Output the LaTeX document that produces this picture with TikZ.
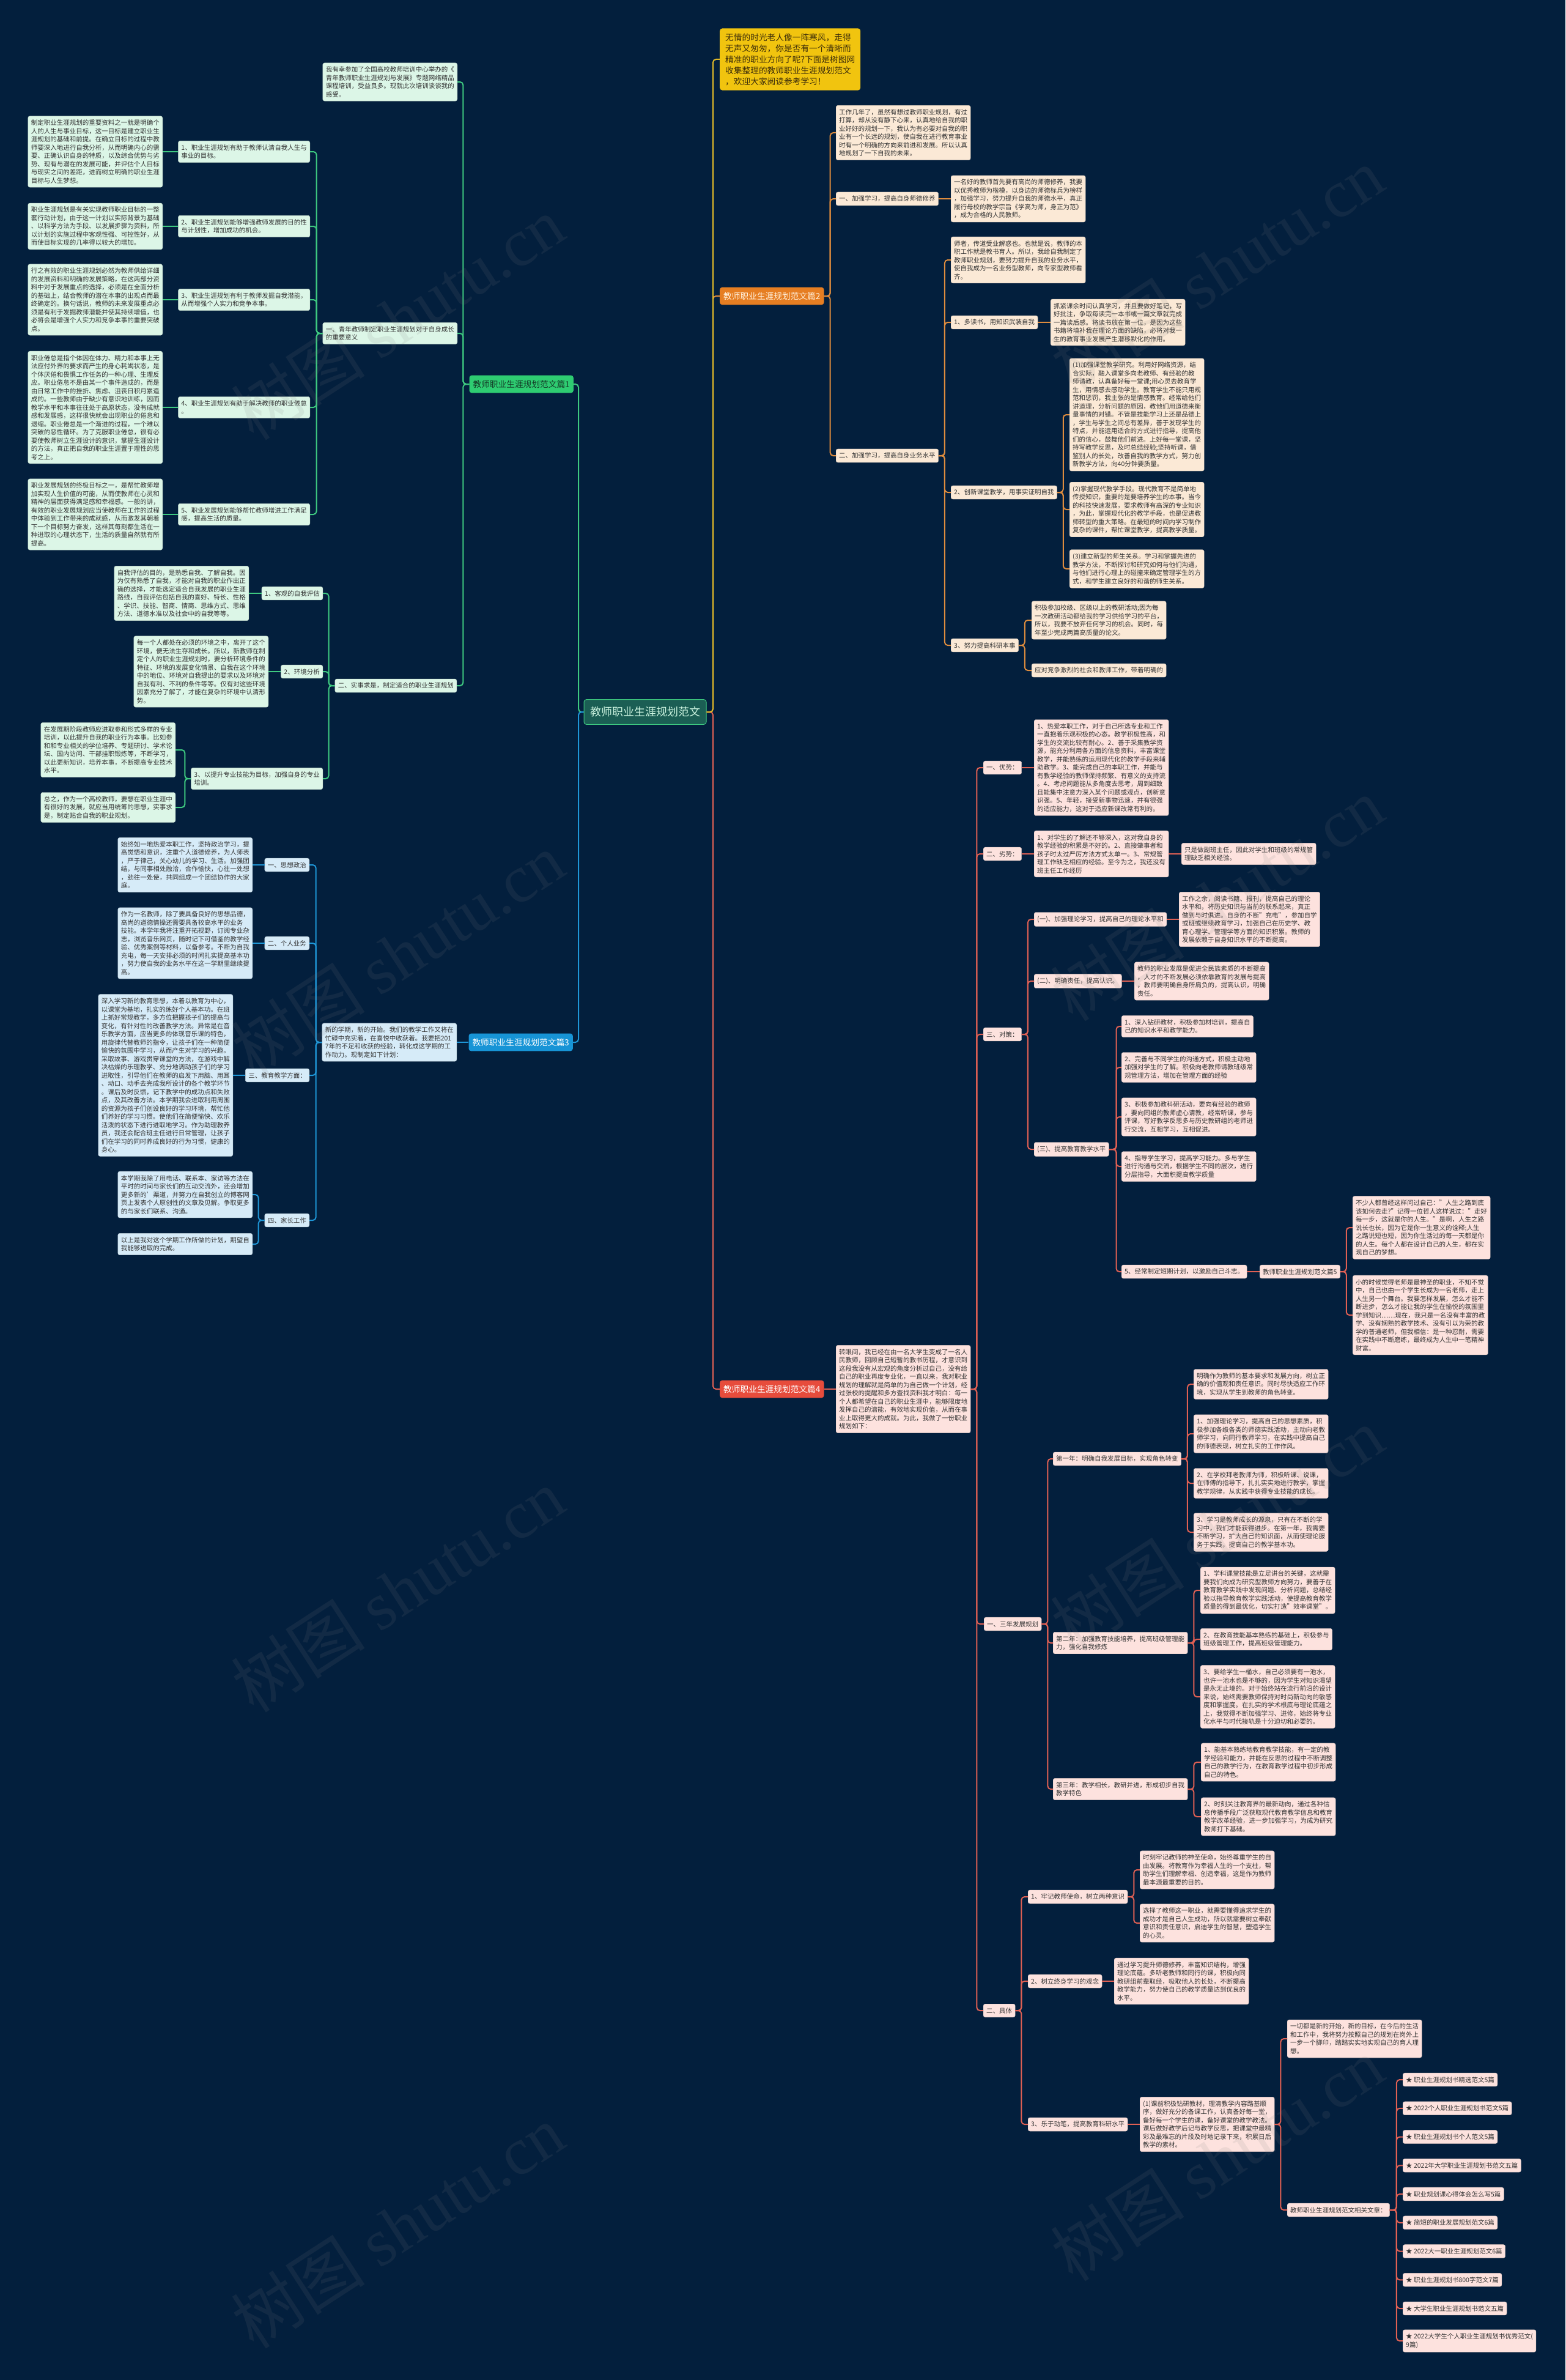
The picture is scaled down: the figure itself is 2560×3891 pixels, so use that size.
\documentclass[tikz,border=0pt]{standalone}
\usepackage{fontspec}
\setmainfont{Noto Sans CJK SC}
\newfontfamily\wmserif{Liberation Serif}

% farben
\definecolor{bgnavy}{RGB}{3,31,61}
\definecolor{inkDark}{RGB}{51,51,51}
\definecolor{gLine}{RGB}{62,201,128}
\definecolor{gBox}{RGB}{220,246,231}
\definecolor{gHead}{RGB}{46,204,113}
\definecolor{bLine}{RGB}{30,150,215}
\definecolor{bBox}{RGB}{214,235,248}
\definecolor{bHead}{RGB}{23,148,214}
\definecolor{oLine}{RGB}{222,140,62}
\definecolor{oBox}{RGB}{251,233,214}
\definecolor{oHead}{RGB}{230,126,34}
\definecolor{rLine}{RGB}{224,96,84}
\definecolor{rBox}{RGB}{253,226,222}
\definecolor{rHead}{RGB}{231,76,60}
\definecolor{yLine}{RGB}{226,186,40}
\definecolor{yHead}{RGB}{241,196,15}
\definecolor{ctrFill}{RGB}{27,94,84}

\begin{document}
\begin{tikzpicture}[x=1pt,y=-1pt,
    box/.style={rounded corners=3, align=left, inner xsep=5, inner ysep=6,
      font=\fontsize{10.5}{13.5}\selectfont, text=inkDark, line width=0.4},
    gbox/.style={box, fill=gBox, draw=gBox!85!black},
    bbox/.style={box, fill=bBox, draw=bBox!85!black},
    obox/.style={box, fill=oBox, draw=oBox!85!black},
    rbox/.style={box, fill=rBox, draw=rBox!85!black},
    head/.style={rounded corners=4, inner xsep=6, inner ysep=8,
      font=\fontsize{13.7}{16}\selectfont},
    ghead/.style={head, fill=gHead, text={rgb,255:red,20;green,60;blue,40}},
    bhead/.style={head, fill=bHead, text=white},
    ohead/.style={head, fill=oHead, text={rgb,255:red,255;green,240;blue,220}},
    rhead/.style={head, fill=rHead, text=white},
    lnk/.style={line width=2, rounded corners=5},
    gln/.style={lnk, draw=gLine},
    bln/.style={lnk, draw=bLine},
    oln/.style={lnk, draw=oLine},
    rln/.style={lnk, draw=rLine},
    yln/.style={lnk, draw=yLine},
    wm/.style={font=\fontsize{110}{110}\selectfont, text=gray, opacity=0.12}]
  \def\hg{10} % halber abstand eltern-kind

  % hintergrund
  \fill[bgnavy] (0,0) rectangle (2560,3891);
  \useasboundingbox (0,0) rectangle (2560,3891);

  % mitte
  \node[rounded corners=4, fill=ctrFill, draw=gLine, line width=1, inner xsep=10, inner ysep=12,
    font=\fontsize{18}{20}\selectfont, text={rgb,255:red,205;green,245;blue,225}] (ctr) at (1055,1164) {教师职业生涯规划范文};

  % ---------------- 篇1 (links, gruen)
  \node[ghead, anchor=east] (p1) at (938,628) {教师职业生涯规划范文篇1};
  \node[gbox, anchor=east] (c0) at (748,134) {我有幸参加了全国高校教师培训中心举办的《\\青年教师职业生涯规划与发展》专题网络精品\\课程培训，受益良多。现就此次培训谈谈我的\\感受。};
  \node[gbox, anchor=east] (c1) at (748,545) {一、青年教师制定职业生涯规划对于自身成长\\的重要意义};
  \node[gbox, anchor=east] (c2) at (747,1121) {二、实事求是，制定适合的职业生涯规划};
  \node[gbox, anchor=east] (b1) at (507,248) {1、职业生涯规划有助于教师认清自我人生与\\事业的目标。};
  \node[gbox, anchor=east] (b2) at (507,370) {2、职业生涯规划能够增强教师发展的目的性\\与计划性，增加成功的机会。};
  \node[gbox, anchor=east] (b3) at (507,490) {3、职业生涯规划有利于教师发掘自我潜能，\\从而增强个人实力和竞争本事。};
  \node[gbox, anchor=east] (b4) at (507,666) {4、职业生涯规划有助于解决教师的职业倦怠\\。};
  \node[gbox, anchor=east] (b5) at (507,841) {5、职业发展规划能够帮忙教师增进工作满足\\感，提高生活的质量。};
  \node[gbox, anchor=east] (a1) at (266,248) {制定职业生涯规划的重要资料之一就是明确个\\人的人生与事业目标，这一目标是建立职业生\\涯规划的基础和前提。在确立目标的过程中教\\师要深入地进行自我分析，从而明确内心的需\\要、正确认识自身的特质，以及综合优势与劣\\势、现有与潜在的发展可能，并评估个人目标\\与现实之间的差距，进而树立明确的职业生涯\\目标与人生梦想。};
  \node[gbox, anchor=east] (a2) at (266,370) {职业生涯规划是有关实现教师职业目标的一整\\套行动计划，由于这一计划以实际背景为基础\\、以科学方法为手段、以发展步骤为资料，所\\以计划的实施过程中客观性强、可控性好，从\\而使目标实现的几率得以较大的增加。};
  \node[gbox, anchor=east] (a3) at (266,490) {行之有效的职业生涯规划必然为教师供给详细\\的发展资料和明确的发展策略，在这两部分资\\料中对于发展重点的选择，必须是在全面分析\\的基础上，结合教师的潜在本事的出现点而最\\终确定的。换句话说，教师的未来发展重点必\\须是有利于发掘教师潜能并使其持续增值，也\\必将会是增强个人实力和竞争本事的重要突破\\点。};
  \node[gbox, anchor=east] (a4) at (266,666) {职业倦怠是指个体因在体力、精力和本事上无\\法应付外界的要求而产生的身心耗竭状态，是\\个体厌倦和畏惧工作任务的一种心理、生理反\\应。职业倦怠不是由某一个事件造成的，而是\\由日常工作中的挫折、焦虑、沮丧日积月累造\\成的。一些教师由于缺少有意识地训练，因而\\教学水平和本事往往处于高原状态，没有成就\\感和发展感，这样很快就会出现职业的倦怠和\\退缩。职业倦怠是一个渐进的过程，一个难以\\突破的恶性循环。为了克服职业倦怠，很有必\\要使教师树立生涯设计的意识，掌握生涯设计\\的方法，真正把自我的职业生涯置于理性的思\\考之上。};
  \node[gbox, anchor=east] (a5) at (266,841) {职业发展规划的终极目标之一，是帮忙教师增\\加实现人生价值的可能，从而使教师在心灵和\\精神的层面获得满足感和幸福感。一般的讲，\\有效的职业发展规划应当使教师在工作的过程\\中体验到工作带来的成就感，从而激发其朝着\\下一个目标努力奋发，这样其每刻都生活在一\\种进取的心理状态下，生活的质量自然就有所\\提高。};
  \node[gbox, anchor=east] (d1) at (528,970) {1、客观的自我评估};
  \node[gbox, anchor=east] (d2) at (528,1098) {2、环境分析};
  \node[gbox, anchor=east] (d3) at (528,1273) {3、以提升专业技能为目标，加强自身的专业\\培训。};
  \node[gbox, anchor=east] (d1t) at (407,970) {自我评估的目的，是熟悉自我、了解自我。因\\为仅有熟悉了自我，才能对自我的职业作出正\\确的选择，才能选定适合自我发展的职业生涯\\路线，自我评估包括自我的喜好、特长、性格\\、学识、技能、智商、情商、思维方式、思维\\方法、道德水准以及社会中的自我等等。};
  \node[gbox, anchor=east] (d2t) at (439,1098) {每一个人都处在必须的环境之中，离开了这个\\环境，便无法生存和成长。所以，新教师在制\\定个人的职业生涯规划时，要分析环境条件的\\特征、环境的发展变化情景、自我在这个环境\\中的地位、环境对自我提出的要求以及环境对\\自我有利、不利的条件等等。仅有对这些环境\\因素充分了解了，才能在复杂的环境中认清形\\势。};
  \node[gbox, anchor=east] (t1) at (287,1226) {在发展期阶段教师应进取参和形式多样的专业\\培训，以此提升自我的职业行为本事。比如参\\和和专业相关的学位培养、专题研讨、学术论\\坛、国内访问、干部挂职锻炼等，不断学习，\\以此更新知识，培养本事，不断提高专业技术\\水平。};
  \node[gbox, anchor=east] (t2) at (287,1320) {总之，作为一个高校教师，要想在职业生涯中\\有很好的发展，就应当用统筹的思想，实事求\\是，制定贴合自我的职业规划。};

  % ---------------- 篇3 (links, blau)
  \node[bhead, anchor=east] (p3) at (937,1704) {教师职业生涯规划范文篇3};
  \node[bbox, anchor=east] (f0) at (747,1704) {新的学期，新的开始。我们的教学工作又将在\\忙碌中充实着，在喜悦中收获着。我要把201\\7年的不足和收获的经验，转化成这学期的工\\作动力。现制定如下计划：};
  \node[bbox, anchor=east] (e1) at (506,1414) {一、思想政治};
  \node[bbox, anchor=east] (e2) at (506,1542) {二、个人业务};
  \node[bbox, anchor=east] (e3) at (506,1758) {三、教育教学方面：};
  \node[bbox, anchor=east] (e4) at (506,1995) {四、家长工作};
  \node[bbox, anchor=east] (e1t) at (413,1414) {始终如一地热爱本职工作，坚持政治学习，提\\高觉悟和意识，注重个人道德修养，为人师表\\，严于律己，关心幼儿的学习、生活。加强团\\结，与同事相处融洽，合作愉快，心往一处想\\，劲往一处使，共同组成一个团结协作的大家\\庭。};
  \node[bbox, anchor=east] (e2t) at (413,1542) {作为一名教师，除了要具备良好的思想品德，\\高尚的道德情操还需要具备较高水平的业务\\技能。本学年我将注重开拓视野，订阅专业杂\\志，浏览音乐网页，随时记下可借鉴的教学经\\验、优秀案例等材料，以备参考。不断为自我\\充电，每一天安排必须的时间扎实提高基本功\\，努力使自我的业务水平在这一学期里继续提\\高。};
  \node[bbox, anchor=east] (e3t) at (381,1758) {深入学习新的教育思想，本着以教育为中心，\\以课堂为基地，扎实的练好个人基本功。在班\\上抓好常规教学，多方位把握孩子们的提高与\\变化，有针对性的改善教学方法。异常是在音\\乐教学方面，应当更多的体现音乐课的特色，\\用旋律代替教师的指令，让孩子们在一种简便\\愉快的氛围中学习，从而产生对学习的兴趣。\\采取故事、游戏贯穿课堂的方法，在游戏中解\\决枯燥的乐理教学、充分地调动孩子们的学习\\进取性，引导他们在教师的启发下用脑、用耳\\、动口、动手去完成我所设计的各个教学环节\\。课后及时反馈，记下教学中的成功点和失败\\点，及其改善方法。本学期我会进取利用周围\\的资源为孩子们创设良好的学习环境，帮忙他\\们养好的学习习惯。使他们在简便愉快、欢乐\\活泼的状态下进行进取地学习。作为助理教养\\员，我还会配合班主任进行日常管理，让孩子\\们在学习的同时养成良好的行为习惯，健康的\\身心。};
  \node[bbox, anchor=east] (e4a) at (413,1953) {本学期我除了用电话、联系本、家访等方法在\\平时的时间与家长们的互动交流外，还会增加\\更多新的'渠道，并努力在自我创立的博客网\\页上发表个人原创性的文章及见解。争取更多\\的与家长们联系、沟通。};
  \node[bbox, anchor=east] (e4b) at (413,2034) {以上是我对这个学期工作所做的计划，期望自\\我能够进取的完成。};

  % ---------------- 篇2 (rechts, orange) + einleitung
  \node[head, fill=yHead, anchor=west, align=left, inner xsep=9,
    font=\fontsize{13.7}{18}\selectfont, text={rgb,255:red,60;green,45;blue,10}] (intro) at (1177,97)
    {无情的时光老人像一阵寒风，走得\\无声又匆匆，你是否有一个清晰而\\精准的职业方向了呢?下面是树图网\\收集整理的教师职业生涯规划范文\\，欢迎大家阅读参考学习！};
  \node[ohead, anchor=west] (p2) at (1177,484) {教师职业生涯规划范文篇2};
  \node[obox, anchor=west] (g0) at (1367,217) {工作几年了，虽然有想过教师职业规划，有过\\打算，却从没有静下心来，认真地给自我的职\\业好好的规划一下，我认为有必要对自我的职\\业有一个长远的规划，使自我在进行教育事业\\时有一个明确的方向来前进和发展。所以认真\\地规划了一下自我的未来。};
  \node[obox, anchor=west] (g1) at (1367,325) {一、加强学习，提高自身师德修养};
  \node[obox, anchor=west] (g1t) at (1555,325) {一名好的教师首先要有高尚的师德修养，我要\\以优秀教师为楷模，以身边的师德标兵为榜样\\，加强学习，努力提升自我的师德水平，真正\\履行母校的教学宗旨《学高为师，身正为范》\\，成为合格的人民教师。};
  \node[obox, anchor=west] (g2) at (1367,745) {二、加强学习，提高自身业务水平};
  \node[obox, anchor=west] (g2a) at (1555,425) {师者，传道受业解惑也。也就是说，教师的本\\职工作就是教书育人。所以，我给自我制定了\\教师职业规划，要努力提升自我的业务水平，\\使自我成为一名业务型教师，向专家型教师看\\齐。};
  \node[obox, anchor=west] (g2b) at (1555,527) {1、多读书，用知识武装自我};
  \node[obox, anchor=west] (g2bt) at (1718,527) {抓紧课余时间认真学习，并且要做好笔记，写\\好批注，争取每读完一本书或一篇文章就完成\\一篇读后感。将读书放在第一位，是因为这些\\书籍将填补我在理论方面的缺陷，必将对我一\\生的教育事业发展产生潜移默化的作用。};
  \node[obox, anchor=west] (g2c) at (1555,805) {2、创新课堂教学，用事实证明自我};
  \node[obox, anchor=west] (g2c1) at (1749,678) {(1)加强课堂教学研究。利用好网络资源，结\\合实际，融入课堂多向老教师、有经验的教\\师请教，认真备好每一堂课;用心灵去教育学\\生，用情感去感动学生。教育学生不能只用规\\范和惩罚，我主张的是情感教育。经常给他们\\讲道理，分析问题的原因，教他们用道德来衡\\量事情的对错。不管是技能学习上还是品德上\\，学生与学生之间总有差异，善于发现学生的\\特点，并能运用适合的方式进行指导，提高他\\们的信心，鼓舞他们前进。上好每一堂课，坚\\持写教学反思，及时总结经验;坚持听课，借\\鉴别人的长处，改善自我的教学方式，努力创\\新教学方法，向40分钟要质量。};
  \node[obox, anchor=west] (g2c2) at (1749,833) {(2)掌握现代教学手段。现代教育不是简单地\\传授知识，重要的是要培养学生的本事。当今\\的科技快速发展，要求教师有高深的专业知识\\，为此，掌握现代化的教学手段，也是促进教\\师转型的重大策略。在最短的时间内学习制作\\复杂的课件，帮忙课堂教学，提高教学质量。};
  \node[obox, anchor=west] (g2c3) at (1749,930) {(3)建立新型的师生关系。学习和掌握先进的\\教学方法，不断探讨和研究如何与他们沟通，\\与他们进行心理上的碰撞来确定管理学生的方\\式，和学生建立良好的和谐的师生关系。};
  \node[obox, anchor=west] (g2d) at (1555,1055) {3、努力提高科研本事};
  \node[obox, anchor=west] (g2d1) at (1687,1014) {积极参加校级、区级以上的教研活动;因为每\\一次教研活动都给我的学习供给学习的平台，\\所以，我要不放弃任何学习的机会。同时，每\\年至少完成两篇高质量的论文。};
  \node[obox, anchor=west] (g2d2) at (1687,1096) {应对竞争激烈的社会和教师工作，带着明确的};

  % ---------------- 篇4 (rechts, rot)
  \node[rhead, anchor=west] (p4) at (1177,2271) {教师职业生涯规划范文篇4};
  \node[rbox, anchor=west] (h0) at (1367,2271) {转眼间，我已经在由一名大学生变成了一名人\\民教师，回顾自己短暂的教书历程，才意识到\\这段我没有从宏观的角度分析过自己，没有给\\自己的职业再度专业化，一直以来，我对职业\\规划的理解就是简单的为自己做一个计划，经\\过张校的提醒和多方查找资料我才明白：每一\\个人都希望在自己的职业生涯中，能够限度地\\发挥自己的潜能，有效地实现价值，从而在事\\业上取得更大的成就。为此，我做了一份职业\\规划如下：};
  \node[rbox, anchor=west] (j1) at (1608,1255) {一、优势：};
  \node[rbox, anchor=west] (j1t) at (1691,1255) {1、热爱本职工作，对于自己所选专业和工作\\一直抱着乐观积极的心态。教学积极性高，和\\学生的交流比较有耐心。2、善于采集教学资\\源，能充分利用各方面的信息资料，丰富课堂\\教学，并能熟练的运用现代化的教学手段来辅\\助教学。3、能完成自己的本职工作，并能与\\有教学经验的教师保持频繁、有意义的支持流\\。4、考虑问题能从多角度去思考，周到细致\\且能集中注意力深入某个问题或观点，创新意\\识强。5、年轻，接受新事物迅速，并有很强\\的适应能力，这对于适应新课改常有利的。};
  \node[rbox, anchor=west] (j2) at (1608,1396) {二、劣势：};
  \node[rbox, anchor=west] (j2t) at (1691,1396) {1、对学生的了解还不够深入，这对我自身的\\教学经验的积累是不好的。2、直接肇事者和\\孩子时太过严厉方法方式太单一。3、常规管\\理工作缺乏相应的经验。至今为之，我还没有\\班主任工作经历};
  \node[rbox, anchor=west] (j2c) at (1932,1396) {只是做副班主任，因此对学生和班级的常规管\\理缺乏相关经验。};
  \node[rbox, anchor=west] (j3) at (1608,1691) {三、对策：};
  \node[rbox, anchor=west] (k1) at (1691,1503) {(一)、加强理论学习，提高自己的理论水平和};
  \node[rbox, anchor=west] (k1t) at (1928,1503) {工作之余，阅读书籍、报刊，提高自己的理论\\水平和，将历史知识与当前的联系起来，真正\\做到与时俱进。自身的不断"充电"，参加自学\\或班或继续教育学习，加强自己在历史学、教\\育心理学、管理学等方面的知识积累。教师的\\发展依赖于自身知识水平的不断提高。};
  \node[rbox, anchor=west] (k2) at (1691,1604) {(二)、明确责任，提高认识。};
  \node[rbox, anchor=west] (k2t) at (1855,1604) {教师的职业发展是促进全民族素质的不断提高\\，人才的不断发展必须依靠教育的发展与提高\\，教师要明确自身所肩负的，提高认识，明确\\责任。};
  \node[rbox, anchor=west] (k3) at (1691,1879) {(三)、提高教育教学水平};
  \node[rbox, anchor=west] (l1) at (1834,1678) {1、深入钻研教材，积极参加材培训，提高自\\己的知识水平和教学能力。};
  \node[rbox, anchor=west] (l2) at (1834,1745) {2、完善与不同学生的沟通方式，积极主动地\\加强对学生的了解。积极向老教师请教班级常\\规管理方法，增加在管理方面的经验};
  \node[rbox, anchor=west] (l3) at (1834,1826) {3、积极参加教科研活动，要向有经验的教师\\，要向同组的教师虚心请教，经常听课，参与\\评课，写好教学反思多与历史教研组的老师进\\行交流，互相学习，互相促进。};
  \node[rbox, anchor=west] (l4) at (1834,1907) {4、指导学生学习，提高学习能力。多与学生\\进行沟通与交流，根据学生不同的层次，进行\\分层指导，大面积提高教学质量};
  \node[rbox, anchor=west] (l5) at (1834,2079) {5、经常制定短期计划，以激励自己斗志。};
  \node[rbox, anchor=west] (p5) at (2060,2079) {教师职业生涯规划范文篇5};
  \node[rbox, anchor=west] (m1) at (2212,2007) {不少人都曾经这样问过自己："人生之路到底\\该如何去走?"记得一位哲人这样说过："走好\\每一步，这就是你的人生。"是啊，人生之路\\说长也长，因为它是你一生意义的诠释;人生\\之路说短也短，因为你生活过的每一天都是你\\的人生。每个人都在设计自己的人生，都在实\\现自己的梦想。};
  \node[rbox, anchor=west] (m2) at (2212,2150) {小的时候觉得老师是最神圣的职业，不知不觉\\中，自己也由一个学生长成为一名老师，走上\\人生另一个舞台。我要怎样发展，怎么才能不\\断进步，怎么才能让我的学生在愉悦的氛围里\\学到知识……现在，我只是一名没有丰富的教\\学、没有娴熟的教学技术、没有引以为荣的教\\学的普通老师，但我相信：是一种忍耐，需要\\在实践中不断磨练，最终成为人生中一笔精神\\财富。};
  % 三年发展规划
  \node[rbox, anchor=west] (n0) at (1609,2655) {一、三年发展规划};
  \node[rbox, anchor=west] (n1) at (1722,2385) {第一年：明确自我发展目标，实现角色转变};
  \node[rbox, anchor=west] (n1a) at (1952,2263) {明确作为教师的基本要求和发展方向，树立正\\确的价值观和责任意识。同时尽快适应工作环\\境，实现从学生到教师的角色转变。};
  \node[rbox, anchor=west] (n1b) at (1952,2344) {1、加强理论学习，提高自己的思想素质，积\\极参加各级各类的师德实践活动，主动向老教\\师学习，向同行教师学习，在实践中提高自己\\的师德表现，树立扎实的工作作风。};
  \node[rbox, anchor=west] (n1c) at (1952,2425) {2、在学校拜老教师为师，积极听课、说课，\\在师傅的指导下，扎扎实实地进行教学，掌握\\教学规律，从实践中获得专业技能的成长。};
  \node[rbox, anchor=west] (n1d) at (1952,2505) {3、学习是教师成长的源泉，只有在不断的学\\习中，我们才能获得进步。在第一年，我需要\\不断学习，扩大自己的知识面，从而使理论服\\务于实践，提高自己的教学基本功。};
  \node[rbox, anchor=west] (n2) at (1722,2686) {第二年：加强教育技能培养，提高班级管理能\\力，强化自我修炼};
  \node[rbox, anchor=west] (n2a) at (1963,2600) {1、学科课堂技能是立足讲台的关键，这就需\\要我们向成为研究型教师方向努力，要善于在\\教育教学实践中发现问题、分析问题，总结经\\验以指导教育教学实践活动，使提高教育教学\\质量的得到最优化，切实打造"效率课堂"。};
  \node[rbox, anchor=west] (n2b) at (1963,2680) {2、在教育技能基本熟练的基础上，积极参与\\班级管理工作，提高班级管理能力。};
  \node[rbox, anchor=west] (n2c) at (1963,2774) {3、要给学生一桶水，自己必须要有一池水，\\也许一池水也是不够的，因为学生对知识渴望\\是永无止境的。对于始终站在流行前沿的设计\\来说，始终需要教师保持对时尚新动向的敏感\\度和掌握度。在扎实的学术根底与理论底蕴之\\上，我觉得不断加强学习、进修，始终将专业\\化水平与时代接轨是十分迫切和必要的。};
  \node[rbox, anchor=west] (n3) at (1722,2925) {第三年：教学相长，教研并进，形成初步自我\\教学特色};
  \node[rbox, anchor=west] (n3a) at (1964,2881) {1、能基本熟练地教育教学技能，有一定的教\\学经验和能力，并能在反思的过程中不断调整\\自己的教学行为，在教育教学过程中初步形成\\自己的特色。};
  \node[rbox, anchor=west] (n3b) at (1964,2970) {2、时刻关注教育界的最新动向，通过各种信\\息传播手段广泛获取现代教育教学信息和教育\\教学改革经验，进一步加强学习，为成为研究\\教师打下基础。};
  % 具体
  \node[rbox, anchor=west] (q0) at (1608,3287) {二、具体};
  \node[rbox, anchor=west] (q1) at (1681,3101) {1、牢记教师使命，树立两种意识};
  \node[rbox, anchor=west] (q1a) at (1864,3057) {时刻牢记教师的神圣使命，始终尊重学生的自\\由发展。将教育作为幸福人生的一个支柱，帮\\助学生们理解幸福、创造幸福，这是作为教师\\最本源最重要的目的。};
  \node[rbox, anchor=west] (q1b) at (1864,3144) {选择了教师这一职业，就需要懂得追求学生的\\成功才是自己人生成功，所以就需要树立奉献\\意识和责任意识，启迪学生的智慧，塑造学生\\的心灵。};
  \node[rbox, anchor=west] (q2) at (1681,3239) {2、树立终身学习的观念};
  \node[rbox, anchor=west] (q2t) at (1822,3239) {通过学习提升师德修养，丰富知识结构，增强\\理论底蕴。多听老教师和同行的课，积极向同\\教研组前辈取经，吸取他人的长处，不断提高\\教学能力，努力使自己的教学质量达到优良的\\水平。};
  \node[rbox, anchor=west] (q3) at (1681,3473) {3、乐于动笔，提高教育科研水平};
  \node[rbox, anchor=west] (q3t) at (1864,3473) {(1)课前积极钻研教材，理清教学内容路基顺\\序，做好充分的备课工作，认真备好每一堂，\\备好每一个学生的课，备好课堂的教学教法。\\课后做好教学后记与教学反思，把课堂中最精\\彩及最难忘的片段及时地记录下来，积累日后\\教学的素材。};
  \node[rbox, anchor=west] (s1) at (2105,3333) {一切都是新的开始，新的目标，在今后的生活\\和工作中，我将努力按照自己的规划在岗外上\\一步一个脚印，踏踏实实地实现自己的育人理\\想。};
  \node[rbox, anchor=west] (s2) at (2105,3613) {教师职业生涯规划范文相关文章：};
  % 相关文章
  \foreach \t [count=\i] in {职业生涯规划书精选范文5篇, 2022个人职业生涯规划书范文5篇,
      职业生涯规划书个人范文5篇, 2022年大学职业生涯规划书范文五篇, 职业规划课心得体会怎么写5篇,
      简短的职业发展规划范文6篇, 2022大一职业生涯规划范文6篇, 职业生涯规划书800字范文7篇,
      大学生职业生涯规划书范文五篇} {
    \node[rbox, anchor=west] (r\i) at (2294,{3400+46.75*(\i-1)}) {★ \t};
  }
  \node[rbox, anchor=west] (r10) at (2294,3827) {★ 2022大学生个人职业生涯规划书优秀范文(\\9篇)};

  % ---------------- verbindungen
  \draw[gln] (ctr.west) -- ++(-8.5,0) |- (p1.east);
  \draw[bln] (ctr.west) -- ++(-8.5,0) |- (p3.east);
  \draw[rln] (ctr.east) -- ++(10.5,0) |- (p4.west);
  \draw[oln] (ctr.east) -- ++(10.5,0) |- (p2.west);
  \draw[yln] (ctr.east) -- ++(10.5,0) |- (intro.west);
  % 篇1
  \foreach \k in {c0,c1,c2} \draw[gln] (p1.west) -- ++(-\hg,0) |- (\k.east);
  \foreach \k in {b1,b2,b3,b4,b5} \draw[gln] (c1.west) -- ++(-\hg,0) |- (\k.east);
  \foreach \i in {1,...,5} \draw[gln] (b\i.west) -- (a\i.east);
  \foreach \k in {d1,d2,d3} \draw[gln] (c2.west) -- ++(-\hg,0) |- (\k.east);
  \draw[gln] (d1.west) -- (d1t.east);
  \draw[gln] (d2.west) -- (d2t.east);
  \foreach \k in {t1,t2} \draw[gln] (d3.west) -- ++(-\hg,0) |- (\k.east);
  % 篇3
  \draw[bln] (p3.west) -- (f0.east);
  \foreach \k in {e1,e2,e3,e4} \draw[bln] (f0.west) -- ++(-\hg,0) |- (\k.east);
  \foreach \k in {1,2,3} \draw[bln] (e\k.west) -- (e\k t.east);
  \foreach \k in {e4a,e4b} \draw[bln] (e4.west) -- ++(-\hg,0) |- (\k.east);
  % 篇2
  \foreach \k in {g0,g1,g2} \draw[oln] (p2.east) -- ++(\hg,0) |- (\k.west);
  \draw[oln] (g1.east) -- (g1t.west);
  \foreach \k in {g2a,g2b,g2c,g2d} \draw[oln] (g2.east) -- ++(\hg,0) |- (\k.west);
  \draw[oln] (g2b.east) -- (g2bt.west);
  \foreach \k in {g2c1,g2c2,g2c3} \draw[oln] (g2c.east) -- ++(\hg,0) |- (\k.west);
  \foreach \k in {g2d1,g2d2} \draw[oln] (g2d.east) -- ++(\hg,0) |- (\k.west);
  % 篇4
  \draw[rln] (p4.east) -- (h0.west);
  \foreach \k in {j1,j2,j3,n0,q0} \draw[rln] (h0.east) -- ++(\hg,0) |- (\k.west);
  \draw[rln] (j1.east) -- (j1t.west);
  \draw[rln] (j2.east) -- (j2t.west);
  \draw[rln] (j2t.east) -- (j2c.west);
  \foreach \k in {k1,k2,k3} \draw[rln] (j3.east) -- ++(\hg,0) |- (\k.west);
  \draw[rln] (k1.east) -- (k1t.west);
  \draw[rln] (k2.east) -- (k2t.west);
  \foreach \k in {l1,l2,l3,l4,l5} \draw[rln] (k3.east) -- ++(12,0) |- (\k.west);
  \draw[rln] (l5.east) -- (p5.west);
  \foreach \k in {m1,m2} \draw[rln] (p5.east) -- ++(\hg,0) |- (\k.west);
  \foreach \k in {n1,n2,n3} \draw[rln] (n0.east) -- ++(\hg,0) |- (\k.west);
  \foreach \k in {n1a,n1b,n1c,n1d} \draw[rln] (n1.east) -- ++(\hg,0) |- (\k.west);
  \foreach \k in {n2a,n2b,n2c} \draw[rln] (n2.east) -- ++(\hg,0) |- (\k.west);
  \foreach \k in {n3a,n3b} \draw[rln] (n3.east) -- ++(\hg,0) |- (\k.west);
  \foreach \k in {q1,q2,q3} \draw[rln] (q0.east) -- ++(\hg,0) |- (\k.west);
  \foreach \k in {q1a,q1b} \draw[rln] (q1.east) -- ++(\hg,0) |- (\k.west);
  \draw[rln] (q2.east) -- (q2t.west);
  \draw[rln] (q3.east) -- (q3t.west);
  \foreach \k in {s1,s2} \draw[rln] (q3t.east) -- ++(\hg,0) |- (\k.west);
  \foreach \i in {1,...,10} \draw[rln] (s2.east) -- ++(11,0) |- (r\i.west);

  % wasserzeichen
  \foreach \wx/\wy in {650/520, 650/1560, 650/2600, 650/3640, 1990/440, 1990/1470, 1990/2500, 1990/3530}
    \node[wm, rotate=33] at (\wx,\wy) {树图 {\wmserif shutu.cn}};
\end{tikzpicture}
\end{document}
